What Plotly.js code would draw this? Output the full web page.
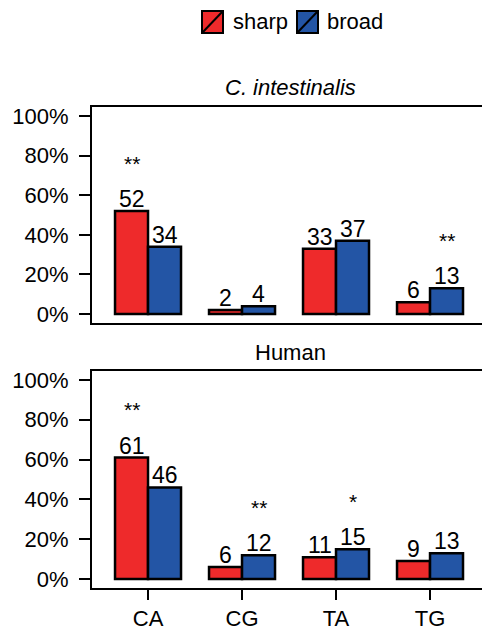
<!DOCTYPE html>
<html>
<head>
<meta charset="utf-8">
<script src="https://cdn.plot.ly/plotly-3.0.1.min.js"></script>
<style>
  html, body { margin: 0; padding: 0; background: #fff; overflow: hidden; }
  #chart { width: 482px; height: 632px; }
</style>
</head>
<body>
<div id="chart"></div>
<script>
// Dinucleotide share of sharp vs broad promoters, per species
const dinucleotides = ['CA', 'CG', 'TA', 'TG'];
const seriesNames = ['sharp', 'broad'];
const seriesColors = ['#EE2A2B', '#2355A5'];

const cionaSharp = [52, 2, 33, 6];
const cionaBroad = [34, 4, 37, 13];
const cionaSignif = ['**', '', '', '**'];

const humanSharp = [61, 6, 11, 9];
const humanBroad = [46, 12, 15, 13];
const humanSignif = ['**', '**', '*', ''];

const yTicks = [0, 20, 40, 60, 80, 100];

const FONT = 'Liberation Sans, Arial, Helvetica, sans-serif';
const W = 482, H = 632, ML = 92;
const px = x => (x - ML) / (W - ML);   // pixel -> paper x
const py = y => 1 - y / H;             // pixel -> paper y
const HALF_BAR = 16.5;                 // half a bar, in pixels

function barTrace(name, values, color, xa, ya) {
  return {
    type: 'bar', name: name, x: dinucleotides, y: values,
    xaxis: xa, yaxis: ya,
    marker: { color: color, line: { color: '#000', width: 2.5 } },
    cliponaxis: false, hoverinfo: 'skip', showlegend: false
  };
}

const traces = [
  barTrace(seriesNames[0], cionaSharp, seriesColors[0], 'x', 'y'),
  barTrace(seriesNames[1], cionaBroad, seriesColors[1], 'x', 'y'),
  barTrace(seriesNames[0], humanSharp, seriesColors[0], 'x2', 'y2'),
  barTrace(seriesNames[1], humanBroad, seriesColors[1], 'x2', 'y2')
];

const annotations = [];

// Value labels just above each bar
function addValueLabels(values, side, xa, ya) {
  values.forEach((v, i) => {
    annotations.push({
      xref: xa, yref: ya, x: dinucleotides[i], xshift: side * HALF_BAR,
      y: v, yanchor: 'bottom', yshift: -3,
      text: String(v), showarrow: false,
      font: { family: FONT, size: 23, color: '#000' }
    });
  });
}
addValueLabels(cionaSharp, -1, 'x', 'y');
addValueLabels(cionaBroad, 1, 'x', 'y');
addValueLabels(humanSharp, -1, 'x2', 'y2');
addValueLabels(humanBroad, 1, 'x2', 'y2');

// Significance stars sit above the taller bar of each pair
function addStars(signif, sharp, broad, xa, ya) {
  signif.forEach((s, i) => {
    if (!s) return;
    const higherIsSharp = sharp[i] >= broad[i];
    annotations.push({
      xref: xa, yref: ya, x: dinucleotides[i],
      xshift: higherIsSharp ? -HALF_BAR : HALF_BAR,
      y: Math.max(sharp[i], broad[i]) + 24,
      text: s, showarrow: false, yanchor: 'middle',
      font: { family: FONT, size: 21, color: '#000' }
    });
  });
}
addStars(cionaSignif, cionaSharp, cionaBroad, 'x', 'y');
addStars(humanSignif, humanSharp, humanBroad, 'x2', 'y2');

// Panel titles
annotations.push({
  xref: 'paper', yref: 'paper', x: px(290), y: py(88),
  text: '<i>C. intestinalis</i>', showarrow: false,
  xanchor: 'center', yanchor: 'middle',
  font: { family: FONT, size: 22, color: '#000' }
});
annotations.push({
  xref: 'paper', yref: 'paper', x: px(290), y: py(352),
  text: 'Human', showarrow: false,
  xanchor: 'center', yanchor: 'middle',
  font: { family: FONT, size: 22, color: '#000' }
});

// Legend: filled squares crossed by a diagonal, followed by the series name
const shapes = [];
const legendBoxes = [[202, 223], [297, 318]];
const legendTextX = [231, 325];
seriesNames.forEach((nm, k) => {
  const [x0, x1] = legendBoxes[k];
  shapes.push({
    type: 'rect', xref: 'paper', yref: 'paper',
    x0: px(x0), x1: px(x1), y0: py(33), y1: py(11),
    fillcolor: seriesColors[k], line: { color: '#000', width: 2 }
  });
  shapes.push({
    type: 'line', xref: 'paper', yref: 'paper',
    x0: px(x0), x1: px(x1), y0: py(33), y1: py(11),
    line: { color: '#000', width: 2 }
  });
  annotations.push({
    xref: 'paper', yref: 'paper', x: px(legendTextX[k]), y: py(22),
    text: nm, showarrow: false, xanchor: 'left', yanchor: 'middle',
    font: { family: FONT, size: 22, color: '#000' }
  });
});

const xRange = [-0.596, 3.553];
const yRange = [-4.5, 104.5];

function yAxis(domain, anchor) {
  return {
    domain: domain, anchor: anchor, range: yRange, fixedrange: true,
    tickvals: yTicks, ticktext: yTicks.map(v => v + '%'),
    ticks: 'outside', ticklen: 11, tickwidth: 2, tickcolor: '#000',
    ticklabelstandoff: 6,
    showline: true, linewidth: 2, linecolor: '#000',
    showgrid: false, zeroline: false,
    tickfont: { family: FONT, size: 22, color: '#000' }
  };
}

const layout = {
  width: W, height: H,
  margin: { l: ML, r: 0, t: 0, b: 0 },
  paper_bgcolor: '#fff', plot_bgcolor: '#fff',
  barmode: 'group', bargap: 0.298, bargroupgap: 0,
  showlegend: false,
  xaxis: {
    anchor: 'y', range: xRange, type: 'category', fixedrange: true,
    showline: true, mirror: true, linewidth: 2, linecolor: '#000',
    ticks: '', showticklabels: false, showgrid: false, zeroline: false
  },
  xaxis2: {
    anchor: 'y2', range: xRange, type: 'category', fixedrange: true,
    showline: true, mirror: true, linewidth: 2, linecolor: '#000',
    ticks: 'outside', ticklen: 10, tickwidth: 2, tickcolor: '#000',
    showgrid: false, zeroline: false,
    tickfont: { family: FONT, size: 22, color: '#000' }
  },
  yaxis: yAxis([py(323), py(107)], 'x'),
  yaxis2: yAxis([py(588), py(371)], 'x2'),
  shapes: shapes,
  annotations: annotations
};

Plotly.newPlot('chart', traces, layout, { displayModeBar: false, staticPlot: true });
</script>
</body>
</html>
